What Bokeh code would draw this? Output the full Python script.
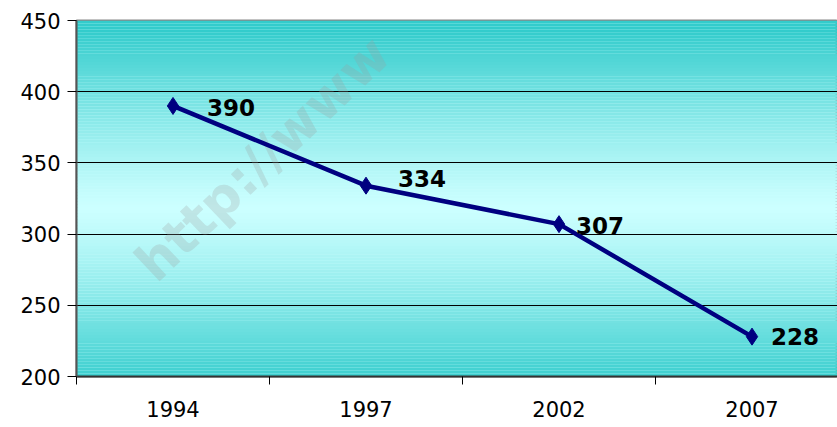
import numpy as np
from bokeh.plotting import figure
from bokeh.models import FixedTicker, ColumnDataSource, Range1d, Label
from bokeh.core.properties import value
from bokeh.embed import file_html
from bokeh.resources import INLINE

# ---- data ----
years = ["1994", "1997", "2002", "2007"]
counts = [390, 334, 307, 228]
y_ticks = [200, 250, 300, 350, 400, 450]

FONT = "DejaVu Sans"
xs = list(range(len(years)))

p = figure(width=837, height=427, output_backend="svg", toolbar_location=None,
           x_range=Range1d(-0.5, 3.443), y_range=Range1d(200, 450),
           min_border_left=76, min_border_top=20, min_border_bottom=51, min_border_right=0)
p.outline_line_color = "#888888"
p.outline_line_width = 2
p.background_fill_color = "#CCFFFF"
p.border_fill_color = "white"

# gradient background (teal -> light cyan -> teal)
n = 120
edges = np.linspace(200, 450, n + 1)
mid = (edges[:-1] + edges[1:]) / 2
t = np.abs(mid - 318) / 125.0
c0 = np.array([0xCC, 0xFF, 0xFF])
c1 = np.array([0x33, 0xCC, 0xCC])
cols = []
for tt in np.clip(t, 0, 1):
    c = c0 + (c1 - c0) * tt ** 1.2
    cols.append("#%02x%02x%02x" % tuple(int(round(v)) for v in c))
bg = p.quad(left=-0.5, right=3.443, bottom=edges[:-1], top=edges[1:], fill_color=cols,
            line_color=None)
bg.level = "image"

# watermark
wm = Label(x=-0.15, y=274, text="http://www", angle=0.76,
           text_font=FONT, text_font_style="bold", text_font_size="52px",
           text_color="#9a9a9a", text_alpha=0.25, text_baseline="alphabetic",
           level="underlay")
p.add_layout(wm)

# grid
p.xgrid.grid_line_color = None
p.ygrid.grid_line_color = "black"
p.ygrid.grid_line_width = 1
p.ygrid.ticker = FixedTicker(ticks=y_ticks)

# axes
p.yaxis.ticker = FixedTicker(ticks=y_ticks)
p.yaxis.axis_line_color = "#555555"
p.yaxis.axis_line_width = 2
p.yaxis.major_tick_line_color = "black"
p.yaxis.major_tick_out = 9
p.yaxis.major_tick_in = 0
p.yaxis.minor_tick_line_color = None
p.yaxis.major_label_text_font = FONT
p.yaxis.major_label_text_font_size = "21px"
p.yaxis.major_label_text_color = "black"
p.yaxis.major_label_standoff = 7

p.xaxis.ticker = FixedTicker(ticks=xs, minor_ticks=[-0.5, 0.5, 1.5, 2.5, 3.5])
p.xaxis.major_label_overrides = {i: y for i, y in enumerate(years)}
p.xaxis.axis_line_color = "#333333"
p.xaxis.axis_line_width = 2
p.xaxis.major_tick_line_color = None
p.xaxis.minor_tick_line_color = "black"
p.xaxis.minor_tick_out = 8
p.xaxis.minor_tick_in = 0
p.xaxis.major_label_text_font = FONT
p.xaxis.major_label_text_font_size = "21px"
p.xaxis.major_label_text_color = "black"
p.xaxis.major_label_standoff = 16

src = ColumnDataSource(dict(x=xs, y=counts))
p.line("x", "y", source=src, line_color="#000080", line_width=4.5)
p.scatter("x", "y", source=src, marker="diamond", size=17, fill_color="#000080",
          line_color="#000080")

# data labels (per-label placement offsets in px)
label_dx = [34, 32, 17, 19]
label_dy = [2, -7, 1, 0]
for i in range(len(xs)):
    p.text(x=[xs[i]], y=[counts[i]], text=[str(counts[i])], x_offset=label_dx[i],
           y_offset=label_dy[i], text_font=value(FONT), text_font_style="bold",
           text_font_size="23px", text_color="black", text_baseline="middle",
           text_align="left")

open("out.html", "w").write(file_html(p, INLINE))
